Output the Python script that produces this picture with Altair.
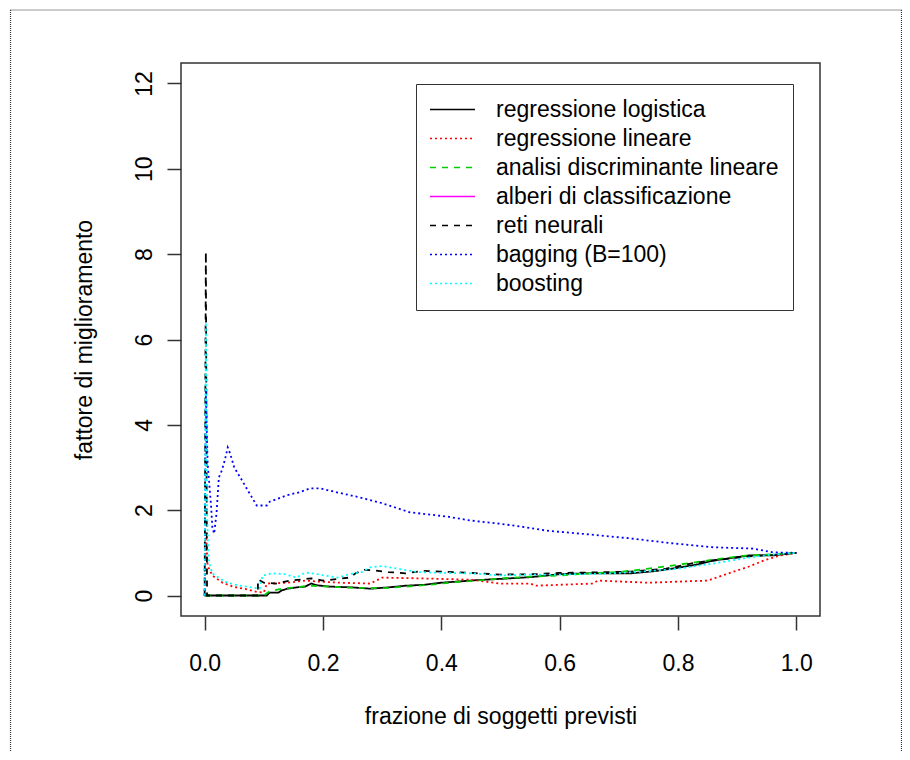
import altair as alt
import pandas as pd

FONT = "Liberation Sans"

series_names = [
    "regressione logistica",
    "regressione lineare",
    "analisi discriminante lineare",
    "alberi di classificazione",
    "reti neurali",
    "bagging (B=100)",
    "boosting",
]
series_colors = ["#000000", "#FF0000", "#00CD00", "#FF00FF", "#000000", "#0000FF", "#00FFFF"]
series_dash = [[1, 0], [2, 3], [6, 6], [1, 0], [6, 6], [2, 3], [2, 3]]

logit_x = [0, 0.105, 0.11, 0.125, 0.13, 0.14, 0.155, 0.17, 0.18, 0.19, 0.21, 0.25, 0.28, 0.31, 0.34,
           0.37, 0.40, 0.43, 0.46, 0.50, 0.55, 0.60, 0.65, 0.72, 0.76, 0.80, 0.83, 0.86, 0.89, 0.92, 0.96, 1.0]
logit_y = [0, 0, 0.07, 0.07, 0.12, 0.16, 0.19, 0.21, 0.28, 0.24, 0.21, 0.19, 0.16, 0.19, 0.23,
           0.25, 0.30, 0.33, 0.36, 0.39, 0.43, 0.50, 0.52, 0.52, 0.57, 0.65, 0.72, 0.82, 0.88, 0.94, 0.94, 1.0]

lin_x = [0, 0.002, 0.005, 0.013, 0.03, 0.05, 0.07, 0.09, 0.10, 0.105, 0.14, 0.17, 0.19, 0.23, 0.28,
         0.30, 0.37, 0.45, 0.50, 0.55, 0.56, 0.655, 0.665, 0.75, 0.85, 0.89, 0.92, 0.945, 0.97, 1.0]
lin_y = [0, 1.5, 0.7, 0.47, 0.30, 0.20, 0.15, 0.08, 0.07, 0.28, 0.30, 0.35, 0.33, 0.30, 0.28,
         0.42, 0.40, 0.37, 0.28, 0.28, 0.23, 0.28, 0.35, 0.30, 0.35, 0.54, 0.68, 0.82, 0.93, 1.0]

lda_x = [0, 0.10, 0.11, 0.13, 0.16, 0.18, 0.22, 0.26, 0.30, 0.34, 0.38, 0.42, 0.46, 0.50, 0.55,
         0.60, 0.65, 0.70, 0.75, 0.80, 0.84, 0.87, 0.91, 0.95, 1.0]
lda_y = [0, 0, 0.10, 0.16, 0.20, 0.23, 0.20, 0.18, 0.17, 0.21, 0.25, 0.31, 0.35, 0.40, 0.44,
         0.47, 0.52, 0.55, 0.63, 0.72, 0.80, 0.86, 0.93, 0.96, 1.0]

nn_x = [0, 0.002, 0.004, 0.09, 0.09, 0.10, 0.12, 0.145, 0.18, 0.20, 0.245, 0.255, 0.27, 0.285, 0.31,
        0.34, 0.37, 0.40, 0.45, 0.50, 0.56, 0.60, 0.66, 0.72, 0.78, 0.83, 0.87, 0.92, 0.96, 1.0]
nn_y = [0, 8.05, 0, 0, 0.38, 0.30, 0.28, 0.35, 0.40, 0.35, 0.42, 0.52, 0.60, 0.59, 0.55,
        0.52, 0.58, 0.56, 0.53, 0.49, 0.50, 0.53, 0.54, 0.56, 0.63, 0.77, 0.84, 0.92, 0.95, 1.0]

bag_x = [0, 0.002, 0.005, 0.011, 0.013, 0.016, 0.02, 0.024, 0.029, 0.034, 0.039, 0.043, 0.05, 0.063,
         0.076, 0.088, 0.105, 0.11, 0.139, 0.16, 0.178, 0.195, 0.223, 0.262, 0.296, 0.347, 0.41, 0.448,
         0.5, 0.533, 0.578, 0.635, 0.719, 0.792, 0.86, 0.927, 0.961, 1.0]
bag_y = [0, 4.8, 3.1, 2.06, 1.6, 1.45, 1.92, 2.77, 2.93, 3.17, 3.47, 3.33, 3.0, 2.7,
         2.39, 2.11, 2.11, 2.2, 2.35, 2.42, 2.51, 2.51, 2.42, 2.30, 2.18, 1.95, 1.85, 1.76,
         1.68, 1.62, 1.52, 1.45, 1.34, 1.22, 1.13, 1.10, 1.01, 1.0]

boost_x = [0, 0.002, 0.004, 0.006, 0.008, 0.013, 0.02, 0.035, 0.055, 0.075, 0.093, 0.098, 0.115, 0.135,
           0.155, 0.17, 0.19, 0.225, 0.245, 0.265, 0.28, 0.30, 0.33, 0.36, 0.40, 0.45, 0.50, 0.55, 0.60,
           0.69, 0.75, 0.80, 0.86, 0.92, 0.96, 1.0]
boost_y = [0, 6.4, 2.0, 1.0, 0.75, 0.52, 0.45, 0.32, 0.24, 0.20, 0.16, 0.47, 0.52, 0.50,
           0.42, 0.54, 0.50, 0.42, 0.50, 0.55, 0.66, 0.69, 0.62, 0.55, 0.53, 0.52, 0.47, 0.49, 0.49,
           0.52, 0.57, 0.63, 0.75, 0.89, 0.96, 1.0]

curves = [
    (series_names[0], logit_x, logit_y),
    (series_names[1], lin_x, lin_y),
    (series_names[2], lda_x, lda_y),
    (series_names[4], nn_x, nn_y),
    (series_names[5], bag_x, bag_y),
    (series_names[6], boost_x, boost_y),
]

rows = []
for name, xs, ys in curves:
    for i, (xv, yv) in enumerate(zip(xs, ys)):
        rows.append({"series": name, "x": xv, "y": yv, "i": i})
df = pd.DataFrame(rows)

legend_kw = dict(
    title=None,
    orient="none",
    legendX=235,
    legendY=21,
    padding=14,
    rowPadding=5,
    labelOffset=43,
    symbolSize=400,
    symbolType="M-1.15,0H3.35",
    symbolStrokeWidth=1.6,
    labelFontSize=23,
    labelFont=FONT,
    labelColor="black",
    labelLimit=600,
    strokeColor="#333333",
)

x_axis = alt.Axis(
    values=[0, 0.2, 0.4, 0.6, 0.8, 1.0], format=".1f",
    labelFontSize=23, labelFont=FONT, labelColor="black",
    labelBaseline="top", labelPadding=22, labelFlush=False, labelOverlap=False,
    tickSize=14, tickColor="#333333", tickWidth=1.5,
    domain=False, grid=False,
    titleFontSize=23, titleFont=FONT, titleFontWeight="normal", titleColor="black",
    titleX=319.5, titleY=107.5, titleBaseline="alphabetic", titleAlign="center",
)
y_axis = alt.Axis(
    values=[0, 2, 4, 6, 8, 10, 12], format="d",
    labelFontSize=23, labelFont=FONT, labelColor="black",
    labelAngle=270, labelAlign="center", labelBaseline="bottom", labelPadding=11,
    labelOverlap=False,
    tickSize=14, tickColor="#333333", tickWidth=1.5,
    domain=False, grid=False,
    titleFontSize=23, titleFont=FONT, titleFontWeight="normal", titleColor="black",
    titleAngle=270, titleX=-89.5, titleY=276.5, titleBaseline="alphabetic", titleAlign="center",
)

lines = alt.Chart(df).mark_line(strokeWidth=1.8).encode(
    x=alt.X("x:Q", title="frazione di soggetti previsti",
            scale=alt.Scale(domain=[-0.04, 1.04], nice=False, zero=False), axis=x_axis),
    y=alt.Y("y:Q", title="fattore di miglioramento",
            scale=alt.Scale(domain=[-0.48, 12.48], nice=False, zero=False), axis=y_axis),
    color=alt.Color("series:N", scale=alt.Scale(domain=series_names, range=series_colors),
                    legend=alt.Legend(**legend_kw)),
    strokeDash=alt.StrokeDash("series:N", scale=alt.Scale(domain=series_names, range=series_dash),
                              legend=alt.Legend(**legend_kw)),
    order=alt.Order("i:Q"),
)

frame_df = pd.DataFrame({"k": [0]})
frame_style = dict(color="#333333", strokeDash=[1, 1], strokeWidth=1.2)
frame_left = alt.Chart(frame_df).mark_rule(**frame_style).encode(
    x=alt.value(-170.5), y=alt.value(-53), y2=alt.value(689))
frame_top = alt.Chart(frame_df).mark_rule(**frame_style).encode(
    x=alt.value(-170.5), x2=alt.value(720.5), y=alt.value(-53))
frame_right = alt.Chart(frame_df).mark_rule(**frame_style).encode(
    x=alt.value(720.5), y=alt.value(-53), y2=alt.value(689))

chart = alt.layer(frame_left, frame_top, frame_right, lines).properties(
    width=639,
    height=553,
    autosize=alt.AutoSizeParams(type="none"),
    padding={"left": 173, "top": 55, "right": 82, "bottom": 136},
    background="white",
).configure_view(stroke="#333333", strokeWidth=1.5)

chart.save("out.html", embed_options={"renderer": "svg", "actions": False})
